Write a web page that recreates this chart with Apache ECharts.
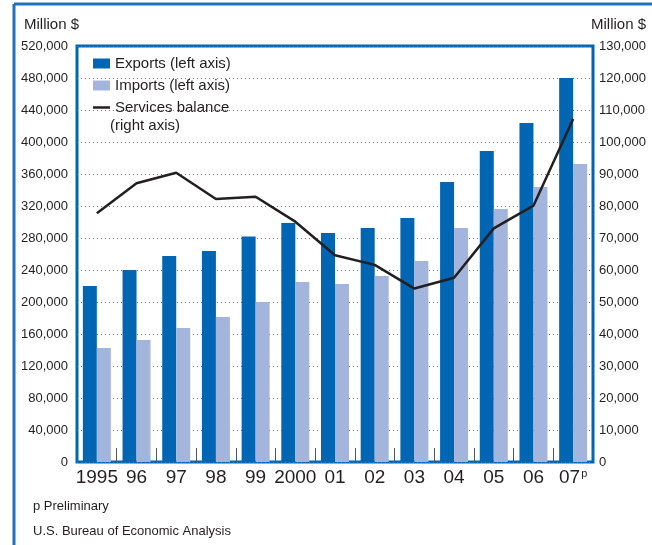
<!DOCTYPE html>
<html>
<head>
<meta charset="utf-8">
<script src="https://cdn.jsdelivr.net/npm/echarts@6/dist/echarts.min.js"></script>
<style>
  html, body { margin: 0; padding: 0; background: #fff; }
  #chart { width: 652px; height: 545px; }
</style>
</head>
<body>
<div id="chart"></div>
<script>
// years on the x axis (07 is preliminary)
var years = ['1995', '96', '97', '98', '99', '2000', '01', '02', '03', '04', '05', '06', '07'];
// million $, left axis
var exportsVals = [220000, 240000, 257500, 263750, 282000, 298750, 286250, 292500, 305000, 350000, 388750, 423750, 480000];
var importsVals = [142500, 152500, 167500, 181250, 200000, 225000, 222500, 232500, 251250, 292500, 316250, 343750, 372500];
// million $, right axis
var servicesVals = [77700, 87100, 90400, 82200, 82900, 75100, 64600, 61600, 54200, 57600, 73000, 80100, 107200];

var blue = '#0066b3';
var lightBlue = '#a3b5dc';
var ink = '#231f20';
var font = 'Liberation Sans';

var chartDom = document.getElementById('chart');
var myChart = echarts.init(chartDom);
var option;

option = {
  animation: false,
  textStyle: { fontFamily: font, color: ink },
  title: [
    { text: 'Million $', left: 24, top: 17, padding: 0, textStyle: { fontSize: 15, fontWeight: 'normal', color: ink, fontFamily: font } },
    { text: 'Million $', left: 591, top: 17, padding: 0, textStyle: { fontSize: 15, fontWeight: 'normal', color: ink, fontFamily: font } }
  ],
  legend: {
    orient: 'vertical',
    left: 88,
    top: 48,
    itemWidth: 17,
    itemHeight: 10,
    itemGap: 1,
    textStyle: { fontSize: 15, color: ink, lineHeight: 21, fontFamily: font },
    data: [
      { name: 'Exports (left axis)', icon: 'rect' },
      { name: 'Imports (left axis)', icon: 'rect' },
      { name: 'Services balance', icon: 'path://M0,0 L17,0 L17,2.5 L0,2.5 Z', itemStyle: { color: ink } }
    ]
  },
  graphic: [
    { type: 'line', shape: { x1: 14, y1: 4, x2: 652, y2: 4 }, style: { stroke: '#1f72bd', lineWidth: 3 } },
    { type: 'line', shape: { x1: 14, y1: 4, x2: 14, y2: 545 }, style: { stroke: '#1f72bd', lineWidth: 3 } },
    { type: 'text', left: 110, top: 118, style: { text: '(right axis)', font: '15px ' + font, fill: ink } },
    { type: 'text', left: 33, top: 500, style: { text: 'p Preliminary', font: '13px ' + font, fill: ink } },
    { type: 'text', left: 33, top: 525, style: { text: 'U.S. Bureau of Economic Analysis', font: '13px ' + font, fill: ink } }
  ],
  grid: {
    left: 77, right: 59, top: 46, bottom: 83,
    show: true, borderColor: blue, borderWidth: 3, backgroundColor: 'transparent'
  },
  xAxis: {
    type: 'category',
    data: years,
    axisLine: { show: false },
    axisTick: { show: true, inside: true, length: 14, interval: 0, lineStyle: { color: '#555', width: 1 } },
    axisLabel: {
      fontSize: 19, color: ink, margin: 6, interval: 0,
      formatter: function (v) { return v === '07' ? '07{p|p}' : v; },
      rich: { p: { fontSize: 11, verticalAlign: 'top', padding: [0, 0, 8, 1], color: ink } }
    }
  },
  yAxis: [
    {
      type: 'value', min: 0, max: 520000, interval: 40000,
      axisLine: { show: false }, axisTick: { show: false },
      axisLabel: { fontSize: 13, color: ink, margin: 9, formatter: function (v) { return v.toLocaleString('en-US'); } },
      splitLine: { show: true, lineStyle: { color: '#777', type: [1, 3], width: 1 } }
    },
    {
      type: 'value', min: 0, max: 130000, interval: 10000,
      axisLine: { show: false }, axisTick: { show: false },
      axisLabel: { fontSize: 13, color: ink, margin: 6, formatter: function (v) { return v.toLocaleString('en-US'); } },
      splitLine: { show: false }
    }
  ],
  series: [
    {
      name: 'Exports (left axis)', type: 'bar', yAxisIndex: 0, data: exportsVals,
      barWidth: 14, barGap: '0%', itemStyle: { color: blue }
    },
    {
      name: 'Imports (left axis)', type: 'bar', yAxisIndex: 0, data: importsVals,
      barWidth: 14, barGap: '0%', itemStyle: { color: lightBlue }
    },
    {
      name: 'Services balance', type: 'line', yAxisIndex: 1, data: servicesVals,
      symbol: 'none', lineStyle: { color: ink, width: 2.5 }, itemStyle: { color: ink }, z: 5
    }
  ]
};

option && myChart.setOption(option);
</script>
</body>
</html>
